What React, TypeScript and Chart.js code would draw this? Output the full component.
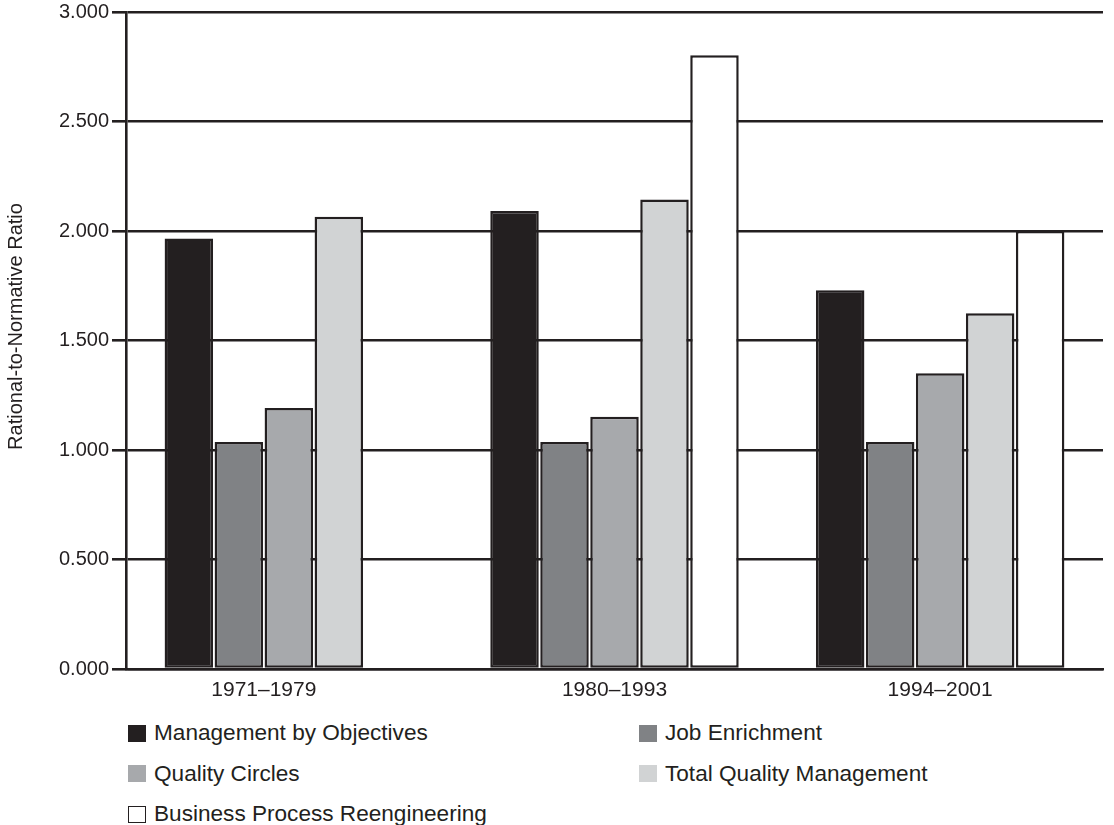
import React, { useEffect, useRef } from "react";
import { Chart, registerables } from "chart.js";

Chart.register(...registerables);

// Periods on the category axis
const periods = ["1971–1979", "1980–1993", "1994–2001"];

// Rational-to-normative ratio per management technique and period
const managementByObjectives = [1.966, 2.091, 1.73];
const jobEnrichment = [1.036, 1.036, 1.036];
const qualityCircles = [1.192, 1.152, 1.35];
const totalQualityManagement = [2.065, 2.144, 1.624];
const businessProcessReengineering: (number | null)[] = [null, 2.802, 2.0];

const seriesNames = [
  "Management by Objectives",
  "Job Enrichment",
  "Quality Circles",
  "Total Quality Management",
  "Business Process Reengineering",
];
const seriesValues = [
  managementByObjectives,
  jobEnrichment,
  qualityCircles,
  totalQualityManagement,
  businessProcessReengineering,
];
const seriesColors = ["#231f20", "#808285", "#a7a9ac", "#d1d3d4", "#ffffff"];

const yMin = 0;
const yMax = 3;
const yStep = 0.5;
const yTitle = "Rational-to-Normative Ratio";

const INK = "#231f20";
const FONT = '"Liberation Sans", Arial, Helvetica, sans-serif';

// Draws the period labels centred under the bars present in each group,
// and the rotated y-axis title.
const periodLabels = {
  id: "periodLabels",
  afterDraw(chart: any) {
    const { ctx, chartArea } = chart;
    ctx.save();
    ctx.fillStyle = INK;
    ctx.textAlign = "center";
    ctx.textBaseline = "middle";
    ctx.font = `21px ${FONT}`;
    periods.forEach((label, j) => {
      let lo = Infinity;
      let hi = -Infinity;
      chart.data.datasets.forEach((ds: any, i: number) => {
        if (ds.data[j] == null) return;
        const bar = chart.getDatasetMeta(i).data[j];
        lo = Math.min(lo, bar.x - bar.width / 2);
        hi = Math.max(hi, bar.x + bar.width / 2);
      });
      if (lo < hi) ctx.fillText(label, (lo + hi) / 2, chartArea.bottom + 21);
    });
    ctx.font = `20px ${FONT}`;
    ctx.translate(16, (chartArea.top + chartArea.bottom) / 2 - 14);
    ctx.rotate(-Math.PI / 2);
    ctx.fillText(yTitle, 0, 0);
    ctx.restore();
  },
};

export default function App() {
  const canvasRef = useRef<HTMLCanvasElement | null>(null);

  useEffect(() => {
    if (!canvasRef.current) return;
    const chart = new Chart(canvasRef.current, {
      type: "bar",
      data: {
        labels: periods,
        datasets: seriesNames.map((name, i) => ({
          label: name,
          data: seriesValues[i],
          backgroundColor: seriesColors[i],
          borderColor: INK,
          borderWidth: 2.5,
          borderSkipped: false,
          categoryPercentage: 0.7675,
          barPercentage: 0.97,
        })),
      },
      options: {
        responsive: false,
        animation: false,
        events: [],
        layout: { padding: { top: 0, right: 11, bottom: 0, left: 0 } },
        plugins: {
          legend: { display: false },
          tooltip: { enabled: false },
          title: { display: false },
        },
        scales: {
          x: {
            type: "category",
            grid: { display: false },
            border: { display: true, color: INK, width: 2.5 },
            ticks: { display: false },
            afterFit: (scale: any) => {
              scale.height = 31;
            },
          },
          y: {
            min: yMin,
            max: yMax,
            grid: {
              color: INK,
              lineWidth: 2.6,
              drawTicks: true,
              tickLength: 14,
            },
            border: { display: true, color: INK, width: 2.6 },
            ticks: {
              stepSize: yStep,
              padding: 3,
              color: INK,
              font: { family: FONT, size: 20 },
              callback: (v: any) => Number(v).toFixed(3),
            },
            afterFit: (scale: any) => {
              scale.width = 126;
            },
          },
        },
      },
      plugins: [periodLabels],
    } as any);
    return () => chart.destroy();
  }, []);

  return (
    <div
      style={{
        position: "absolute",
        left: 0,
        top: 0,
        width: 1114,
        height: 825,
        overflow: "hidden",
        background: "#ffffff",
        fontFamily: FONT,
        color: INK,
      }}
    >
      <canvas
        ref={canvasRef}
        width={1114}
        height={703}
        style={{ position: "absolute", left: 0, top: -3, width: 1114, height: 703 }}
      />
      <div
        style={{
          position: "absolute",
          left: 128,
          top: 713,
          display: "grid",
          gridTemplateColumns: "511px auto",
          gridAutoRows: "40.5px",
          fontSize: 22.6,
        }}
      >
        {seriesNames.map((name, i) => (
          <div key={name} style={{ display: "flex", alignItems: "center", whiteSpace: "nowrap" }}>
            <span
              style={{
                display: "inline-block",
                width: 18,
                height: 17,
                boxSizing: "border-box",
                background: seriesColors[i],
                border: seriesColors[i] === "#ffffff" ? `1.5px solid ${INK}` : "none",
                marginRight: 8,
              }}
            />
            <span>{name}</span>
          </div>
        ))}
      </div>
    </div>
  );
}
